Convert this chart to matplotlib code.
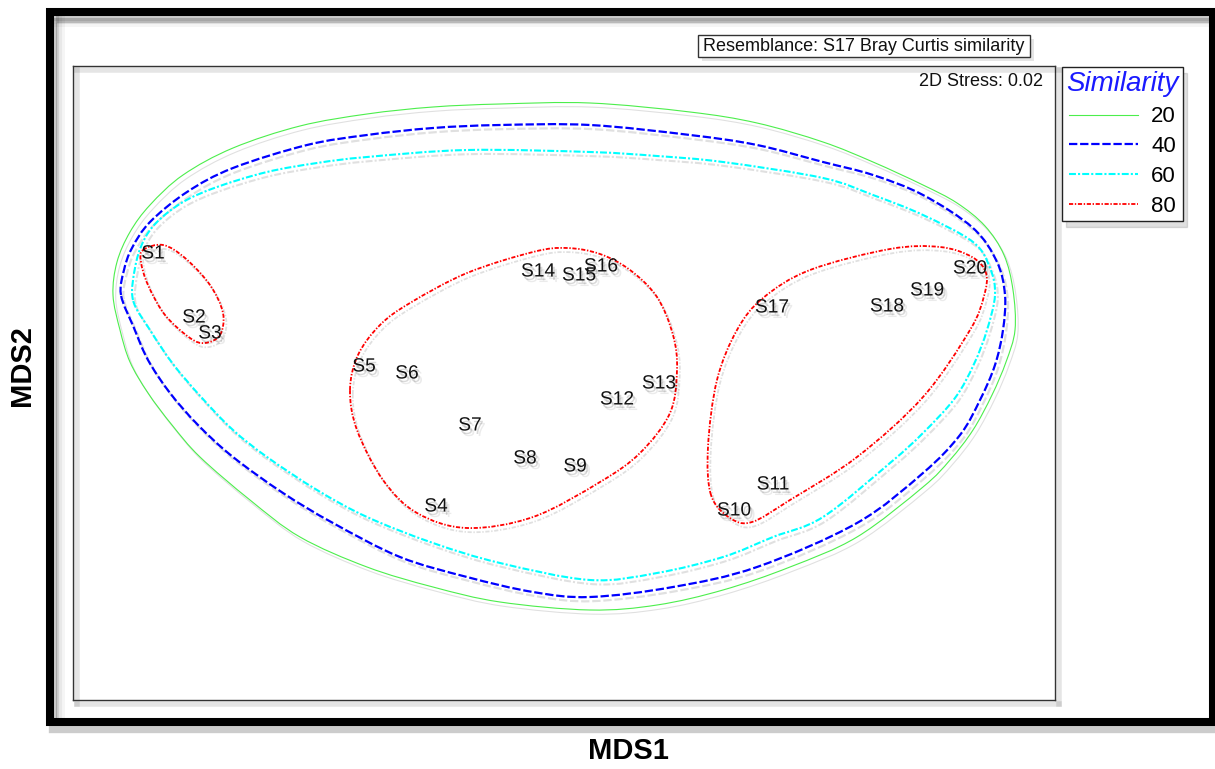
import numpy as np
import matplotlib
matplotlib.use("Agg")
import matplotlib.pyplot as plt
import matplotlib.patheffects as pe
from matplotlib.path import Path
from matplotlib.patches import PathPatch, Rectangle
from matplotlib.lines import Line2D

plt.rcParams['font.family'] = ['Liberation Sans', 'DejaVu Sans']
plt.rcParams['lines.scale_dashes'] = False

# sample positions (pixel-like units, y grows downward)
samples = ['S1', 'S2', 'S3', 'S4', 'S5', 'S6', 'S7', 'S8', 'S9', 'S10',
           'S11', 'S12', 'S13', 'S14', 'S15', 'S16', 'S17', 'S18', 'S19', 'S20']
mds1 = [153, 194, 210, 436, 364, 407, 470, 525, 575, 734,
        773, 617, 659, 538, 579, 601, 772, 887, 927, 970]
mds2 = [254, 318, 334, 507, 367, 374, 426, 459, 467, 511,
        485, 400, 384, 272, 276, 267, 308, 307, 291, 269]

# similarity contour outlines (anchor points)
c20_x = [113, 117, 130, 150, 183, 233, 300, 367, 433, 500, 590, 690, 757, 823, 873, 923, 957, 985, 1004, 1013, 1015,
         1006, 992, 973, 950, 923, 857, 790, 723, 657, 590, 500, 433, 367, 300, 250, 200, 172, 148, 130, 120]
c20_y = [295, 262, 232, 205, 175, 148, 126, 114, 107, 104, 103, 112, 123, 142, 162, 185, 203, 226, 255, 290, 330,
         362, 395, 430, 460, 487, 537, 567, 590, 605, 610, 602, 587, 567, 537, 500, 457, 425, 393, 362, 330]
c40_x = [121, 124, 132, 150, 187, 233, 307, 367, 433, 500, 590, 690, 757, 823, 873, 923, 973, 997, 1005, 1003,
         995, 980, 960, 923, 857, 757, 673, 590, 533, 467, 400, 333, 283, 233, 198, 170, 148, 134]
c40_y = [295, 270, 248, 222, 192, 168, 145, 135, 128, 125, 125, 135, 145, 162, 175, 195, 228, 262, 295, 330,
         365, 400, 435, 473, 523, 567, 587, 597, 592, 577, 557, 523, 493, 457, 425, 393, 360, 328]
c60_x = [133, 135, 143, 157, 183, 217, 267, 317, 367, 467, 590, 657, 723, 823, 873, 923, 973, 990, 995, 987,
         974, 955, 923, 890, 823, 773, 723, 657, 590, 500, 433, 367, 317, 267, 233, 202, 173, 150]
c60_y = [300, 268, 242, 222, 202, 187, 172, 163, 157, 150, 152, 156, 162, 178, 195, 215, 242, 268, 295, 330,
         364, 398, 433, 463, 517, 537, 557, 573, 580, 563, 543, 517, 490, 457, 430, 398, 364, 330]
c80a_x = [143, 163, 185, 210, 223, 220, 205, 190, 165, 148, 141]
c80a_y = [250, 245, 258, 285, 313, 335, 343, 338, 315, 285, 262]
c80b_x = [350, 358, 380, 410, 467, 533, 567, 600, 630, 657, 673, 677, 670, 640, 600, 533, 467, 417, 383, 357]
c80b_y = [390, 355, 325, 303, 273, 252, 248, 254, 270, 297, 335, 370, 413, 453, 482, 517, 528, 513, 480, 430]
c80c_x = [711, 708, 717, 737, 763, 810, 890, 940, 972, 986, 984, 970, 923, 857, 790, 752, 730]
c80c_y = [495, 447, 380, 330, 298, 270, 249, 247, 257, 273, 296, 330, 397, 457, 500, 522, 518]

levels = ['20', '40', '60', '80']
level_colors = ['#4cee4c', '#0000ff', '#00ffff', '#ff0000']
level_styles = ['-', (0, (6, 2)), (0, (5, 1.5, 1.5, 1.5)), (0, (3, 1.2, 1, 1.2))]
level_widths = [0.8, 1.6, 1.5, 1.3]


def closed_curve(xs, ys):
    pts = np.column_stack([xs, ys]).astype(float)
    n = len(pts)
    verts = [pts[0]]
    codes = [Path.MOVETO]
    for i in range(n):
        p0, p1, p2, p3 = pts[i - 1], pts[i], pts[(i + 1) % n], pts[(i + 2) % n]
        verts += [p1 + (p2 - p0) / 6, p2 - (p3 - p1) / 6, p2]
        codes += [Path.CURVE4] * 3
    return Path(verts, codes)


def shadow(dx=2, dy=-3):
    return [pe.SimpleLineShadow(offset=(dx, dy), shadow_color='k', alpha=0.12),
            pe.Normal()]


fig = plt.figure(figsize=(12.15, 7.69), dpi=100)
W, H = 1215, 769
ax = fig.add_axes([73 / W, 1 - 700 / H, (1055 - 73) / W, (700 - 66) / H])
ax.set_xlim(73, 1055)
ax.set_ylim(700, 66)
ax.set_xticks([])
ax.set_yticks([])
for s in ax.spines.values():
    s.set_linewidth(1.0)
    s.set_edgecolor('#333333')
    s.set_path_effects([pe.SimpleLineShadow(offset=(3, -3), shadow_color='k', alpha=0.1, linewidth=4),
                        pe.Normal()])

contours = [(c20_x, c20_y, 0), (c40_x, c40_y, 1), (c60_x, c60_y, 2),
            (c80a_x, c80a_y, 3), (c80b_x, c80b_y, 3), (c80c_x, c80c_y, 3)]
for xs, ys, k in contours:
    patch = PathPatch(closed_curve(xs, ys), fill=False, edgecolor=level_colors[k],
                      linewidth=level_widths[k], linestyle=level_styles[k])
    patch.set_path_effects(shadow())
    ax.add_patch(patch)

for name, x, y in zip(samples, mds1, mds2):
    ax.text(x, y, name, ha='center', va='center', fontsize=13.8, color='#111111',
            path_effects=[pe.SimplePatchShadow(offset=(1.5, -2.5), shadow_rgbFace='k', alpha=0.15),
                          pe.SimplePatchShadow(offset=(3, -4), shadow_rgbFace='k', alpha=0.08),
                          pe.Normal()])

ax.text(1043, 82, '2D Stress: 0.02', ha='right', va='center', fontsize=13, color='#111111')

ax.set_xlabel('MDS1', fontsize=21, fontweight='bold')
ax.xaxis.set_label_coords((628 - 73) / 982, (700 - 751) / 634)
ax.xaxis.label.set_va('center')
ax.set_ylabel('MDS2', fontsize=21, fontweight='bold')
ax.yaxis.set_label_coords((22 - 73) / 982, (700 - 366) / 634)
ax.yaxis.label.set_va('center')

handles = [Line2D([], [], color=c, linestyle=st, linewidth=lw)
           for c, st, lw in zip(level_colors, level_styles, level_widths)]
leg = ax.legend(handles, levels, loc='upper left', bbox_to_anchor=(1062 / W, 1 - 67 / H),
                bbox_transform=fig.transFigure, borderaxespad=0, fontsize=16,
                handlelength=3.1, handletextpad=0.6, labelspacing=0.4, borderpad=0.2,
                fancybox=False, edgecolor='#222222', framealpha=1,
                title='Similarity', title_fontproperties={'size': 20, 'style': 'italic'},
                shadow={'color': 'k', 'alpha': 0.12, 'ox': 3, 'oy': -4})
leg.get_title().set_color('#1a1aff')
leg.get_frame().set_linewidth(1.0)

# figure-level frames and caption
over = fig.add_axes([0, 0, 1, 1], facecolor='none')
over.set_xlim(0, W)
over.set_ylim(H, 0)
over.axis('off')
frame = Rectangle((50, 12), 1163, 710, fill=False, edgecolor='black', linewidth=5.8)
frame.set_path_effects([pe.SimpleLineShadow(offset=(2, -5), shadow_color='k', alpha=0.2, linewidth=6),
                        pe.Normal()])
over.add_patch(frame)
for off, a in [(6, 0.18), (9, 0.09), (12, 0.04)]:
    over.plot([54 + off - 3, 54 + off - 3], [16, 718], color='k', alpha=a, linewidth=2.2)
    over.plot([54, 1209], [16 + off - 3, 16 + off - 3], color='k', alpha=a, linewidth=2.2)

res_box = Rectangle((698, 35), 332, 22, facecolor='white', edgecolor='#333333', linewidth=1.0)
res_box.set_path_effects([pe.SimplePatchShadow(offset=(3, -3), shadow_rgbFace='k', alpha=0.1),
                          pe.Normal()])
over.add_patch(res_box)
over.text(703, 46.5, 'Resemblance: S17 Bray Curtis similarity', ha='left', va='center',
          fontsize=13, color='#111111')

fig.savefig('out.png', dpi=100)
